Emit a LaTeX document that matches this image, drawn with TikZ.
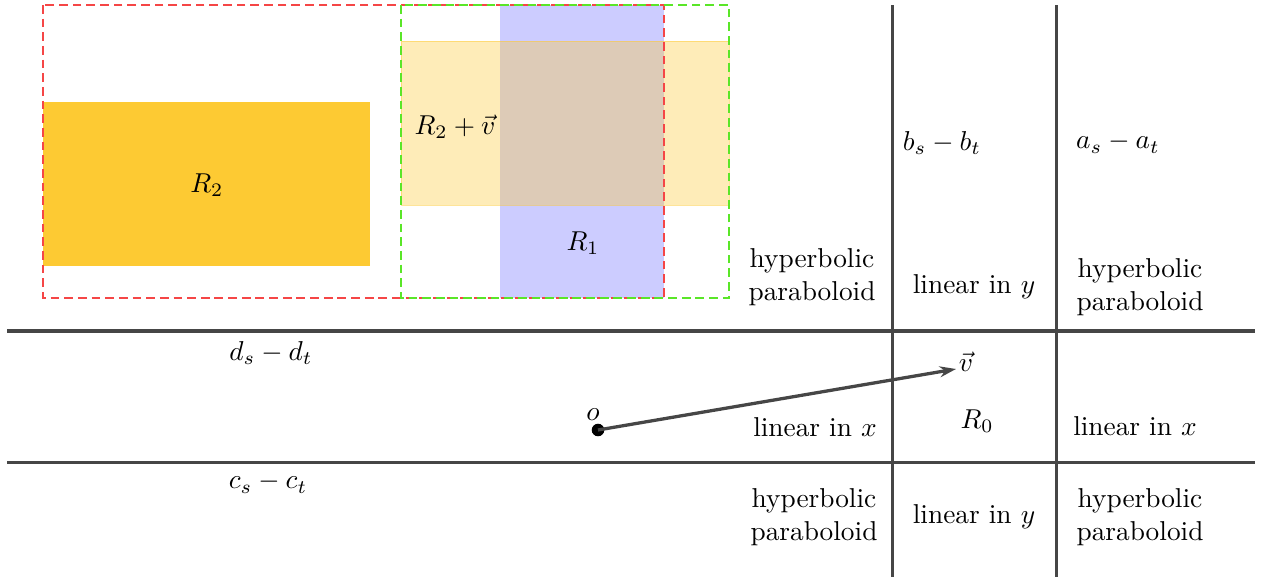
\documentclass[tikz,border=0pt]{standalone}
\usetikzlibrary{arrows.meta}
\definecolor{rtwo}{RGB}{253,202,51}
\definecolor{rone}{RGB}{204,204,255}
\definecolor{gridc}{RGB}{70,70,70}
\definecolor{redd}{RGB}{245,70,70}
\definecolor{greend}{RGB}{90,230,40}
\begin{document}
\begin{tikzpicture}[x=0.366pt,y=-0.366pt,
  gridline/.style={draw=gridc,line width=1.1pt},
  dashbox/.style={line width=0.5pt,dash pattern=on 3.2pt off 1.8pt},
  lbl/.style={inner sep=1pt,align=center,font=\normalsize}]
\useasboundingbox (0,0) rectangle (1263,581);
% regions
\fill[rone] (500,5) rectangle (664,298);
\fill[rtwo] (43,102) rectangle (370,266);
\filldraw[fill=rtwo,draw=rtwo,fill opacity=0.35,draw opacity=0.5,line width=0.3pt] (401,41) rectangle (729,205);
\draw[dashbox,draw=redd] (43,5) rectangle (664,298);
\draw[dashbox,draw=greend] (401,5) rectangle (729,298);
% grid lines
\coordinate (v1t) at (892,5); \coordinate (v1b) at (892,577);
\coordinate (v2t) at (1056,5); \coordinate (v2b) at (1056,577);
\coordinate (h1l) at (7,331); \coordinate (h1r) at (1255,331);
\coordinate (h2l) at (7,462); \coordinate (h2r) at (1255,462);
\draw[gridline] (v1t) -- (v1b);
\draw[gridline] (v2t) -- (v2b);
\draw[gridline] (h1l) -- (h1r);
\draw[gridline] (h2l) -- (h2r);
% labels
\node[lbl] (lR2) at (207,185) {$R_2$};
\node[lbl] (lR2v) at (455,127) {$R_2+\vec{v}$};
\node[lbl] (lR1) at (583,243) {$R_1$};
\node[lbl] (bst) at (942,143) {$b_s-b_t$};
\node[lbl] (ast) at (1118,143) {$a_s-a_t$};
\node[lbl] (hp1) at (812,277) {hyperbolic\\paraboloid};
\node[lbl] (ly1) at (974,287) {linear in $y$};
\node[lbl] (hp2) at (1140,287) {hyperbolic\\paraboloid};
\node[lbl] (dst) at (271,353) {$d_s-d_t$};
\node[lbl] (cst) at (268,483) {$c_s-c_t$};
\node[lbl] (lx1) at (815,427) {linear in $x$};
\node[lbl] (R0) at (977,421) {$R_0$};
\node[lbl] (lx2) at (1135,426) {linear in $x$};
\node[lbl] (hp3) at (814,517) {hyperbolic\\paraboloid};
\node[lbl] (ly2) at (974,517) {linear in $y$};
\node[lbl] (hp4) at (1140,517) {hyperbolic\\paraboloid};
% vector
\node[circle,fill=black,inner sep=0pt,minimum size=4.6pt] (o) at (598,430) {};
\node[lbl] (olbl) at (593,415) {$o$};
\coordinate (vend) at (956,369);
\node[lbl] (vlbl) at (966,362) {$\vec{v}$};
\draw[draw=gridc,line width=1.2pt,-{Stealth[length=6pt,width=4pt]}] (o.center) -- (vend);
\end{tikzpicture}
\end{document}
